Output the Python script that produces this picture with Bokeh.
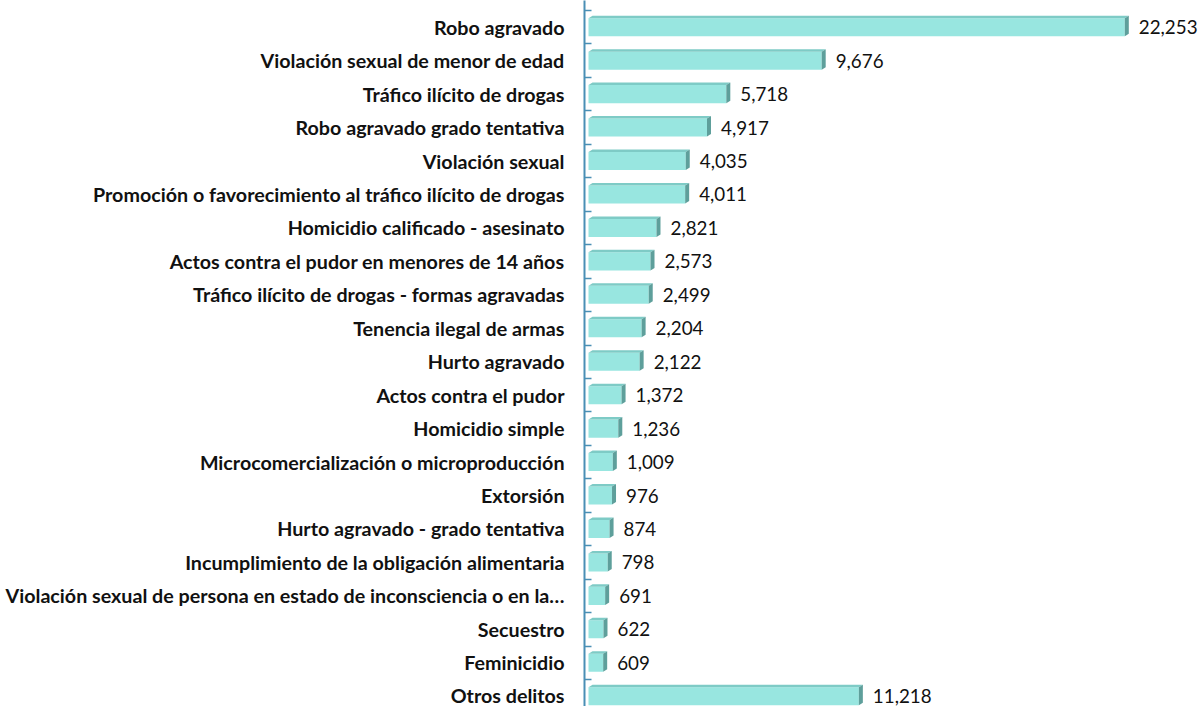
from bokeh.plotting import figure
from bokeh.models import Range1d, FixedTicker, ColumnDataSource
from bokeh.core.properties import value
from bokeh.embed import file_html
from bokeh.resources import INLINE

categories = [
    "Robo agravado",
    "Violación sexual de menor de edad",
    "Tráfico ilícito de drogas",
    "Robo agravado grado tentativa",
    "Violación sexual",
    "Promoción o favorecimiento al tráfico ilícito de drogas",
    "Homicidio calificado - asesinato",
    "Actos contra el pudor en menores de 14 años",
    "Tráfico ilícito de drogas - formas agravadas",
    "Tenencia ilegal de armas",
    "Hurto agravado",
    "Actos contra el pudor",
    "Homicidio simple",
    "Microcomercialización o microproducción",
    "Extorsión",
    "Hurto agravado - grado tentativa",
    "Incumplimiento de la obligación alimentaria",
    "Violación sexual de persona en estado de inconsciencia o en la…",
    "Secuestro",
    "Feminicidio",
    "Otros delitos",
]
values = [22253, 9676, 5718, 4917, 4035, 4011, 2821, 2573, 2499, 2204, 2122,
          1372, 1236, 1009, 976, 874, 798, 691, 622, 609, 11218]

FACE = "#98E6E0"
TOP = "#7ECBC6"
SIDE = "#5E9F9B"
AXIS = "#4A8FB5"

W, H = 1198, 706
frame_left = 584
px_per_unit = 0.0241
row_px = 33.45
x_start = -4 / px_per_unit
x_end = x_start + (W - frame_left) / px_per_unit
y_top = -0.5 - 10 / row_px
y_bottom = y_top + H / row_px

p = figure(width=W, height=H, output_backend="svg", toolbar_location=None,
           x_range=Range1d(x_start, x_end), y_range=Range1d(start=y_bottom, end=y_top),
           x_axis_location=None, min_border_left=frame_left, min_border_right=0,
           min_border_top=0, min_border_bottom=0)
p.outline_line_color = None
p.xgrid.visible = False
p.ygrid.visible = False

idx = list(range(len(categories)))
h = 0.54
d = 4 / px_per_unit          # depth in x data units (4px)
dy = 0.075                   # depth in y data units

top = [i - h / 2 for i in idx]
bot = [i + h / 2 for i in idx]

src = ColumnDataSource(dict(y=idx, v=values, top=top, bot=bot,
                            label=[f"{v:,}" for v in values]))

p.hbar(y="y", left=0, right="v", height=h, source=src, fill_color=FACE, line_color=None)

# top face
xs_top = [[0, v, v + d, d] for v in values]
ys_top = [[t, t, t - dy, t - dy] for t in top]
p.patches(xs_top, ys_top, fill_color=TOP, line_color=None)
# right side face
xs_side = [[v, v + d, v + d, v] for v in values]
ys_side = [[t, t - dy, b - dy, b] for t, b in zip(top, bot)]
p.patches(xs_side, ys_side, fill_color=SIDE, line_color=None)

p.text(x="v", y="y", text="label", source=src, x_offset=14, text_baseline="middle",
       text_align="left", text_font=value("Lato"), text_font_size="18.8px", text_color="#111111")

ax = p.yaxis[0]
ax.ticker = FixedTicker(ticks=idx, minor_ticks=[i - 0.5 for i in range(len(idx) + 1)])
ax.major_label_overrides = {i: c for i, c in enumerate(categories)}
ax.major_label_text_font = "Lato"
ax.major_label_text_font_style = "bold"
ax.major_label_text_font_size = "19.7px"
ax.major_label_text_color = "#111111"
ax.major_label_standoff = 20
ax.axis_line_color = AXIS
ax.axis_line_width = 2
ax.major_tick_line_color = None
ax.major_tick_out = 0
ax.major_tick_in = 0
ax.minor_tick_line_color = AXIS
ax.minor_tick_line_width = 1.5
ax.minor_tick_in = 7
ax.minor_tick_out = 0

open("out.html", "w").write(file_html(p, INLINE))
